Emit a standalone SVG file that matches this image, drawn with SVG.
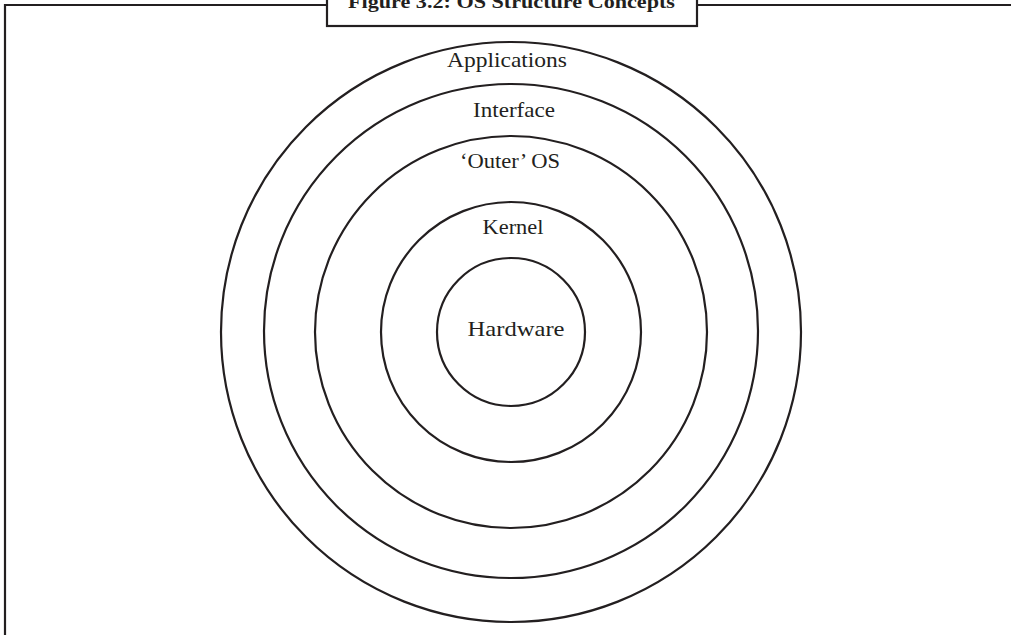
<svg xmlns="http://www.w3.org/2000/svg" width="1011" height="635" viewBox="0 0 1011 635">
<style>
.ln{fill:none;stroke:#231f20;stroke-width:2.2}
.lbl{font-family:"Liberation Serif",serif;font-size:21px;fill:#231f20;text-anchor:middle}
.ttl{font-family:"Liberation Serif",serif;font-size:18px;font-weight:bold;fill:#231f20;text-anchor:middle}
</style>
<rect width="1011" height="635" fill="#fff"/>
<g id="frame">
<path class="ln" d="M5,636 V5 H1012"/>
<rect x="327" y="-3" width="370" height="29" fill="#fff" stroke="#231f20" stroke-width="2.2"/>
<text class="ttl" x="511.5" y="8" textLength="327" lengthAdjust="spacingAndGlyphs">Figure 3.2: OS Structure Concepts</text>
</g>
<g id="applications">
<circle class="ln" cx="511" cy="332" r="290"/>
<text class="lbl" x="507" y="67" textLength="120" lengthAdjust="spacingAndGlyphs">Applications</text>
</g>
<g id="interface">
<circle class="ln" cx="511" cy="331" r="247"/>
<text class="lbl" x="514" y="117" textLength="82" lengthAdjust="spacingAndGlyphs">Interface</text>
</g>
<g id="outer-os">
<circle class="ln" cx="511" cy="332" r="196"/>
<text class="lbl" x="510" y="168" textLength="100" lengthAdjust="spacingAndGlyphs">‘Outer’ OS</text>
</g>
<g id="kernel">
<circle class="ln" cx="511" cy="332" r="130"/>
<text class="lbl" x="513" y="234" textLength="61" lengthAdjust="spacingAndGlyphs">Kernel</text>
</g>
<g id="hardware">
<circle class="ln" cx="511" cy="332" r="74"/>
<text class="lbl" x="516" y="336" textLength="97" lengthAdjust="spacingAndGlyphs">Hardware</text>
</g>
<g id="connectors"/>
</svg>
